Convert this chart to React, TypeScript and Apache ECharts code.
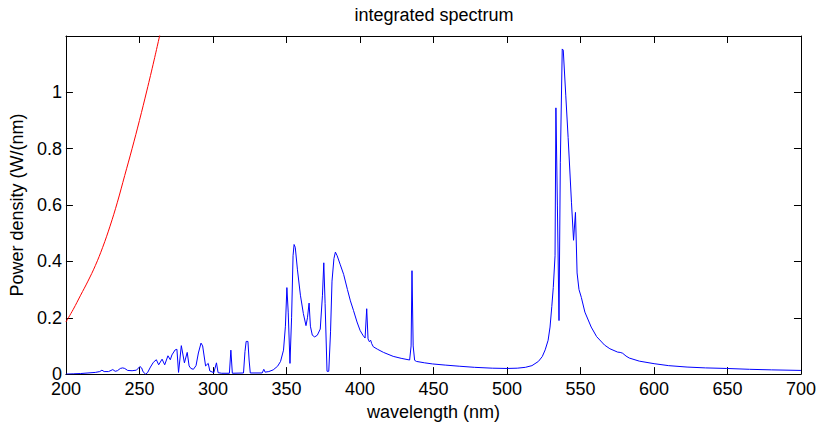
import React, { useEffect, useRef } from "react";
import * as echarts from "echarts";

const titleText = "integrated spectrum";
const xName = "wavelength (nm)";
const yName = "Power density (W/(nm)";

const blueWl = [
  200, 205, 210, 215, 220, 223, 224.5, 226, 229, 231.9, 233.5, 235, 237, 238.6, 240, 242, 245, 248,
  250.3, 251.5, 252.5, 254.2, 255.5, 257.5, 259.5, 261.5, 263.1, 265.4, 267.2, 269.4, 271, 272.1,
  274.3, 275.5, 276.6, 278.5, 280.6, 282.5, 283.8, 285, 286.7, 288.5, 290.1, 291.9, 293, 295, 296.8,
  297.9, 300.6, 302.4, 303.5, 306, 311.2, 312.2, 313.2, 320.8, 321.8, 322.6, 323.8, 324.6, 325.4,
  333.5, 334.6, 335.5, 338, 341, 344, 346, 348, 349.3, 350.3, 351.2, 352.4, 353.5, 354.5, 355.2,
  356, 357.5, 359.5, 361.5, 363.3, 364.3, 365.4, 366.3, 367.6, 369.2, 371, 373, 374.5, 375.4, 376.3,
  377.6, 378.8, 380, 381, 382.3, 383.3, 384.5, 386.5, 388.9, 391.5, 393.5, 395.6, 398, 400.1, 402,
  403.5, 404.6, 405.5, 406.4, 407.3, 408, 409.1, 412, 416, 422.6, 428, 433.8, 434.8, 435.4, 436.2,
  437.2, 438.4, 444, 449.5, 458, 467.5, 478, 490, 500, 507, 512.5, 517, 521.4, 524, 526, 528, 529.3,
  530.5, 531.5, 532.7, 533.3, 534.3, 535.4, 536.3, 537.6, 538.3, 540, 541.6, 543.9, 545.3, 546.6,
  547.7, 549, 550.6, 553, 557.3, 561, 566.4, 570, 575.3, 577, 578.7, 581, 583.2, 590, 600.1, 610,
  622.5, 635, 649.5, 665, 680, 700,
];
const blueVal = [
  0, 0.001, 0.002, 0.004, 0.006, 0.009, 0.014, 0.009, 0.009, 0.016, 0.01, 0.012, 0.02, 0.022, 0.02, 0.013, 0.012, 0.014,
  0.027, 0.022, 0.008, 0, 0.005, 0.025, 0.042, 0.051, 0.033, 0.053, 0.033, 0.065, 0.051, 0.068,
  0.086, 0.088, 0.006, 0.101, 0.04, 0.077, 0.029, 0.02, 0.017, 0.03, 0.075, 0.11, 0.1, 0.029, 0.038,
  0.011, 0.005, 0.04, 0.005, 0.003, 0.003, 0.085, 0.003, 0.004, 0.08, 0.116, 0.116, 0.05, 0.004,
  0.004, 0.017, 0.007, 0.009, 0.015, 0.028, 0.045, 0.085, 0.17, 0.307, 0.22, 0.038, 0.2, 0.42, 0.46,
  0.45, 0.37, 0.28, 0.215, 0.172, 0.2, 0.252, 0.17, 0.138, 0.132, 0.138, 0.16, 0.28, 0.395, 0.25,
  0.01, 0.01, 0.15, 0.33, 0.41, 0.433, 0.42, 0.39, 0.354, 0.3, 0.26, 0.226, 0.185, 0.155, 0.138,
  0.128, 0.232, 0.125, 0.115, 0.12, 0.108, 0.097, 0.088, 0.077, 0.063, 0.056, 0.05, 0.1, 0.367, 0.1,
  0.049, 0.045, 0.04, 0.036, 0.032, 0.028, 0.024, 0.021, 0.02, 0.021, 0.024, 0.03, 0.045, 0.062, 0.086, 0.12, 0.167,
  0.24, 0.307, 0.42, 0.945, 0.6, 0.19, 0.75, 1.154, 1.15, 0.99, 0.84, 0.608, 0.475, 0.574,
  0.359, 0.3, 0.272, 0.22, 0.167, 0.133, 0.103, 0.09, 0.078, 0.077, 0.074, 0.064, 0.057, 0.046, 0.037, 0.03,
  0.025, 0.022, 0.02, 0.017, 0.015, 0.013,
];

const redWl = [200, 205, 210, 215, 220, 225, 230, 235, 240, 245, 250, 255, 260, 265];
const redVal = [0.185, 0.23, 0.28, 0.33, 0.385, 0.45, 0.525, 0.61, 0.705, 0.8, 0.9, 1.005, 1.115, 1.23];

const xTicks = { min: 200, max: 700, interval: 50 };
const yTicks = { min: 0, max: 1.2, interval: 0.2 };

const FONT = "'Liberation Sans', Arial, sans-serif";

export default function App() {
  const ref = useRef<HTMLDivElement>(null);
  useEffect(() => {
    if (!ref.current) return;
    document.body.style.margin = "0";
    document.documentElement.style.overflow = "hidden";
    document.body.style.overflow = "hidden";
    const chart = echarts.init(ref.current, null, { renderer: "svg", width: 819, height: 426 });
    const blue = blueWl.map((w, i) => [w, blueVal[i]]);
    const red = redWl.map((w, i) => [w, redVal[i]]);
    const lineStyle = { color: "#000", width: 1 };
    const tick = { show: true, inside: true, length: 7, lineStyle: { color: "#000", width: 1 } };
    const label = { color: "#000", fontSize: 18, fontFamily: FONT };
    chart.setOption({
      animation: false,
      backgroundColor: "#fff",
      title: {
        text: titleText,
        left: 434,
        textAlign: "center",
        top: 6,
        padding: 0,
        textStyle: { color: "#000", fontSize: 18, fontWeight: "normal", fontFamily: FONT, lineHeight: 18 },
      },
      grid: { left: 63, right: 14, top: 36, bottom: 45, containLabel: false },
      xAxis: [
        {
          type: "value",
          position: "bottom",
          ...xTicks,
          name: xName,
          nameLocation: "middle",
          nameGap: 22,
          nameTextStyle: { color: "#000", fontSize: 18, fontFamily: FONT },
          axisLine: { show: true, onZero: false, lineStyle },
          axisTick: tick,
          axisLabel: { ...label, margin: 6 },
          splitLine: { show: false },
        },
        {
          type: "value",
          position: "top",
          ...xTicks,
          axisLine: { show: true, onZero: false, lineStyle },
          axisTick: tick,
          axisLabel: { show: false },
          splitLine: { show: false },
        },
      ],
      yAxis: [
        {
          type: "value",
          position: "left",
          ...yTicks,
          name: yName,
          nameLocation: "middle",
          nameGap: 33,
          nameTextStyle: { color: "#000", fontSize: 18, fontFamily: FONT },
          axisLine: { show: true, onZero: false, lineStyle },
          axisTick: tick,
          axisLabel: { ...label, margin: 4, showMaxLabel: false },
          splitLine: { show: false },
        },
        {
          type: "value",
          position: "right",
          ...yTicks,
          axisLine: { show: true, onZero: false, lineStyle },
          axisTick: tick,
          axisLabel: { show: false },
          splitLine: { show: false },
        },
      ],
      series: [
        {
          type: "line",
          data: red,
          xAxisIndex: 0,
          yAxisIndex: 0,
          showSymbol: false,
          symbol: "none",
          smooth: 0.4,
          clip: true,
          lineStyle: { color: "#ff0000", width: 1 },
        },
        {
          type: "line",
          data: blue,
          xAxisIndex: 0,
          yAxisIndex: 0,
          showSymbol: false,
          symbol: "none",
          clip: true,
          lineStyle: { color: "#0000ff", width: 1 },
        },
      ],
    });
    return () => chart.dispose();
  }, []);
  return <div ref={ref} style={{ width: 819, height: 426, overflow: "hidden" }} />;
}
